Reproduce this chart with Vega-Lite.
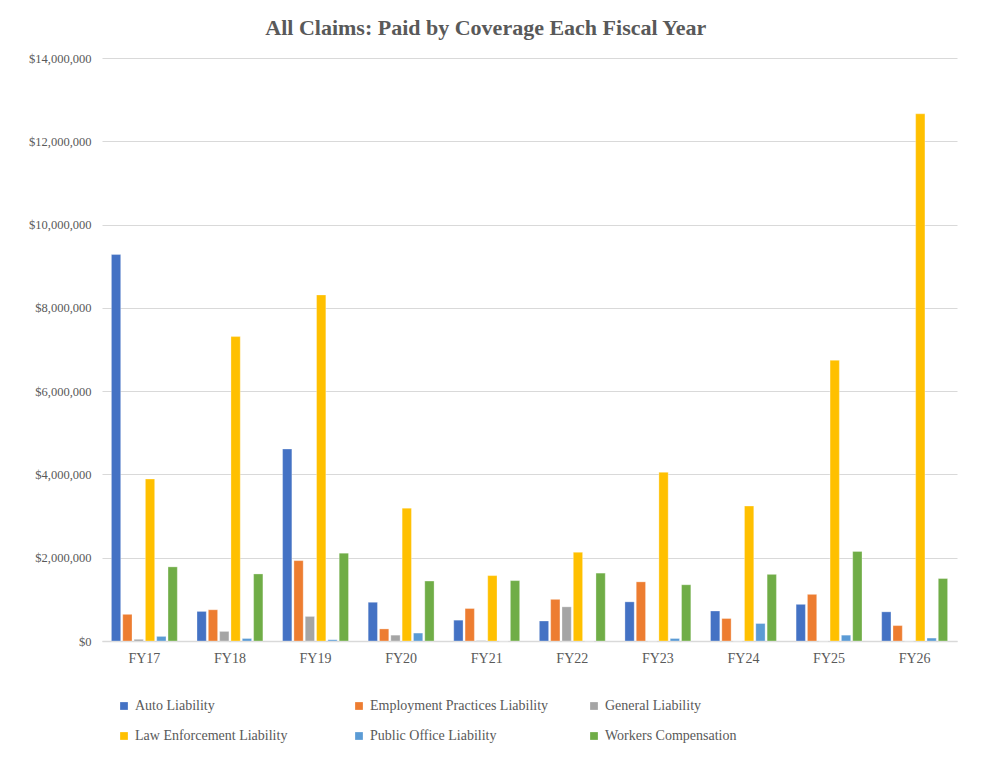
{
  "$schema": "https://vega.github.io/schema/vega-lite/v6.json",
  "width": 855,
  "height": 583,
  "autosize": {"type": "none"},
  "padding": {"left": 102, "top": 58, "right": 43, "bottom": 119},
  "background": "white",
  "title": {
    "text": "All Claims: Paid by Coverage Each Fiscal Year",
    "font": "Liberation Serif",
    "fontSize": 22,
    "fontWeight": "bold",
    "color": "#595959",
    "anchor": "middle",
    "frame": "bounds",
    "dx": -7,
    "offset": 12
  },
  "data": {
    "values": [
      {"year": "FY17", "coverage": "Auto Liability", "paid": 9280000},
      {"year": "FY17", "coverage": "Employment Practices Liability", "paid": 640000},
      {"year": "FY17", "coverage": "General Liability", "paid": 40000},
      {"year": "FY17", "coverage": "Law Enforcement Liability", "paid": 3890000},
      {"year": "FY17", "coverage": "Public Office Liability", "paid": 110000},
      {"year": "FY17", "coverage": "Workers Compensation", "paid": 1780000},
      {"year": "FY18", "coverage": "Auto Liability", "paid": 710000},
      {"year": "FY18", "coverage": "Employment Practices Liability", "paid": 750000},
      {"year": "FY18", "coverage": "General Liability", "paid": 230000},
      {"year": "FY18", "coverage": "Law Enforcement Liability", "paid": 7310000},
      {"year": "FY18", "coverage": "Public Office Liability", "paid": 60000},
      {"year": "FY18", "coverage": "Workers Compensation", "paid": 1610000},
      {"year": "FY19", "coverage": "Auto Liability", "paid": 4610000},
      {"year": "FY19", "coverage": "Employment Practices Liability", "paid": 1930000},
      {"year": "FY19", "coverage": "General Liability", "paid": 590000},
      {"year": "FY19", "coverage": "Law Enforcement Liability", "paid": 8310000},
      {"year": "FY19", "coverage": "Public Office Liability", "paid": 30000},
      {"year": "FY19", "coverage": "Workers Compensation", "paid": 2110000},
      {"year": "FY20", "coverage": "Auto Liability", "paid": 930000},
      {"year": "FY20", "coverage": "Employment Practices Liability", "paid": 290000},
      {"year": "FY20", "coverage": "General Liability", "paid": 140000},
      {"year": "FY20", "coverage": "Law Enforcement Liability", "paid": 3190000},
      {"year": "FY20", "coverage": "Public Office Liability", "paid": 190000},
      {"year": "FY20", "coverage": "Workers Compensation", "paid": 1440000},
      {"year": "FY21", "coverage": "Auto Liability", "paid": 500000},
      {"year": "FY21", "coverage": "Employment Practices Liability", "paid": 780000},
      {"year": "FY21", "coverage": "General Liability", "paid": 10000},
      {"year": "FY21", "coverage": "Law Enforcement Liability", "paid": 1570000},
      {"year": "FY21", "coverage": "Public Office Liability", "paid": 0},
      {"year": "FY21", "coverage": "Workers Compensation", "paid": 1450000},
      {"year": "FY22", "coverage": "Auto Liability", "paid": 480000},
      {"year": "FY22", "coverage": "Employment Practices Liability", "paid": 1000000},
      {"year": "FY22", "coverage": "General Liability", "paid": 820000},
      {"year": "FY22", "coverage": "Law Enforcement Liability", "paid": 2130000},
      {"year": "FY22", "coverage": "Public Office Liability", "paid": 0},
      {"year": "FY22", "coverage": "Workers Compensation", "paid": 1630000},
      {"year": "FY23", "coverage": "Auto Liability", "paid": 940000},
      {"year": "FY23", "coverage": "Employment Practices Liability", "paid": 1420000},
      {"year": "FY23", "coverage": "General Liability", "paid": 0},
      {"year": "FY23", "coverage": "Law Enforcement Liability", "paid": 4050000},
      {"year": "FY23", "coverage": "Public Office Liability", "paid": 60000},
      {"year": "FY23", "coverage": "Workers Compensation", "paid": 1350000},
      {"year": "FY24", "coverage": "Auto Liability", "paid": 720000},
      {"year": "FY24", "coverage": "Employment Practices Liability", "paid": 540000},
      {"year": "FY24", "coverage": "General Liability", "paid": 0},
      {"year": "FY24", "coverage": "Law Enforcement Liability", "paid": 3240000},
      {"year": "FY24", "coverage": "Public Office Liability", "paid": 420000},
      {"year": "FY24", "coverage": "Workers Compensation", "paid": 1600000},
      {"year": "FY25", "coverage": "Auto Liability", "paid": 880000},
      {"year": "FY25", "coverage": "Employment Practices Liability", "paid": 1120000},
      {"year": "FY25", "coverage": "General Liability", "paid": 0},
      {"year": "FY25", "coverage": "Law Enforcement Liability", "paid": 6740000},
      {"year": "FY25", "coverage": "Public Office Liability", "paid": 140000},
      {"year": "FY25", "coverage": "Workers Compensation", "paid": 2150000},
      {"year": "FY26", "coverage": "Auto Liability", "paid": 700000},
      {"year": "FY26", "coverage": "Employment Practices Liability", "paid": 370000},
      {"year": "FY26", "coverage": "General Liability", "paid": 0},
      {"year": "FY26", "coverage": "Law Enforcement Liability", "paid": 12660000},
      {"year": "FY26", "coverage": "Public Office Liability", "paid": 70000},
      {"year": "FY26", "coverage": "Workers Compensation", "paid": 1500000}
    ]
  },
  "mark": {"type": "bar", "stroke": "white", "strokeWidth": 0.5, "strokeOpacity": 0.6},
  "encoding": {
    "x": {
      "field": "year",
      "type": "nominal",
      "sort": null,
      "scale": {"paddingInner": 0.23, "paddingOuter": 0.11},
      "axis": {
        "title": null,
        "labelAngle": 0,
        "labelFont": "Liberation Serif",
        "labelFontSize": 14,
        "labelColor": "#595959",
        "labelPadding": 10,
        "ticks": false,
        "domainColor": "#d9d9d9",
        "domainWidth": 1.5
      }
    },
    "xOffset": {
      "field": "coverage",
      "type": "nominal",
      "sort": null,
      "scale": {"paddingInner": 0.18}
    },
    "y": {
      "field": "paid",
      "type": "quantitative",
      "scale": {"domain": [0, 14000000]},
      "axis": {
        "title": null,
        "values": [0, 2000000, 4000000, 6000000, 8000000, 10000000, 12000000, 14000000],
        "format": "$,.0f",
        "labelFont": "Liberation Serif",
        "labelFontSize": 12.5,
        "labelColor": "#595959",
        "labelPadding": 11,
        "ticks": false,
        "domain": false,
        "gridColor": "#d9d9d9",
        "gridWidth": 1
      }
    },
    "color": {
      "field": "coverage",
      "type": "nominal",
      "sort": null,
      "scale": {
        "domain": ["Auto Liability", "Employment Practices Liability", "General Liability", "Law Enforcement Liability", "Public Office Liability", "Workers Compensation"],
        "range": ["#4472C4", "#ED7D31", "#A5A5A5", "#FFC000", "#5B9BD5", "#70AD47"]
      },
      "legend": {
        "title": null,
        "orient": "none",
        "legendX": 15,
        "legendY": 641,
        "direction": "horizontal",
        "columns": 3,
        "gridAlign": "all",
        "columnPadding": 38,
        "rowPadding": 16,
        "symbolType": "square",
        "symbolSize": 60,
        "symbolStrokeWidth": 0,
        "labelFont": "Liberation Serif",
        "labelFontSize": 14,
        "labelColor": "#595959",
        "labelOffset": 4,
        "labelLimit": 300
      }
    }
  },
  "config": {
    "view": {"stroke": null}
  }
}
